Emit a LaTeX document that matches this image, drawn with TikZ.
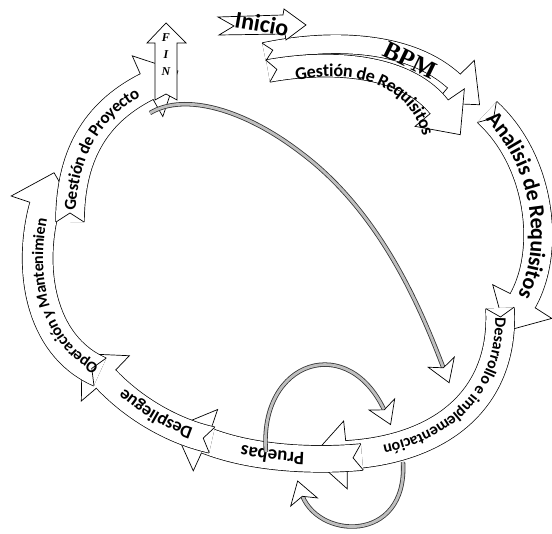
\documentclass[tikz,border=0pt]{standalone}
\usepackage{fontspec}
\setmainfont{Carlito}
\newfontfamily\bpmfont{Liberation Serif}
\usetikzlibrary{decorations.markings, decorations.text}

\begin{document}
\begin{tikzpicture}[x=1pt, y=-1pt, line width=0.7pt, font=\bfseries,
    band/.style={preaction={draw=black, line width=#1+1.4pt},
      postaction={draw=white, line width=#1},
      postaction={decorate, decoration={markings,
        mark=at position 0 with {\draw[line width=0.7pt] (0,#1/2) -- (9pt,0) -- (0,-#1/2);},
        mark=at position -0.5pt with {\draw[line width=0.7pt, fill=white]
          (-1pt,#1/2) -- (0,#1/2+20pt) -- (34pt,0) -- (0,-#1/2-20pt) -- (-1pt,-#1/2);}}}},
    band/.default=28pt,
    words/.style={postaction={decorate, decoration={text along path,
      text align=center, raise=-5.5pt, #1}}},
    loop/.style={preaction={draw=black!80, line width=4.4pt}, draw=black!25, line width=2.8pt,
      postaction={decorate, decoration={markings,
        mark=at position -0.5pt with {\draw[line width=0.7pt, draw=black, fill=white]
          (-4pt,0) -- (-10pt,14pt) -- (12pt,0) -- (-10pt,-14pt) -- cycle;}}}}
  ]
  \useasboundingbox (0,0) rectangle (552,534);

  % top bands
  \path[band=18pt] (264,52) .. controls (330,38) and (410,40) .. (455,82);
  \path[band=22pt] (268,71) .. controls (340,58) and (410,68) .. (440,108);
  \path[words={text={|\bfseries\fontsize{18}{18}\selectfont|Gestión de Requisitos}, raise=-6pt}]
    (280,78) .. controls (350,58) and (422,76) .. (432,150);
  \node[rotate=-26, font=\bpmfont\bfseries\fontsize{25}{25}\selectfont] (bpm) at (410,60) {BPM};

  % ring
  \path[band, words={text={|\bfseries\fontsize{22}{22}\selectfont|Analisis de Requisitos}, raise=-7pt}]
    (487,112) .. controls (540,160) and (552,250) .. (522,302);
  \path[band, words={text={|\bfseries\fontsize{16}{16}\selectfont|Desarrollo e implementación},
      text align={left, left indent=10pt}, raise=-5pt}]
    (500,308) .. controls (505,400) and (440,450) .. (345,455);
  \path[band=26pt, words={text={|\bfseries\fontsize{19}{19}\selectfont|Pruebas},
      text align={left, left indent=58pt}, raise=-6pt}]
    (362,457) .. controls (320,461) and (255,460) .. (205,440);
  \path[band=26pt, words={text={|\bfseries\fontsize{18}{18}\selectfont|Despliegue}, raise=-6pt}]
    (212,440) .. controls (175,432) and (135,410) .. (105,378);
  \path[band=30pt, words={text={|\bfseries\fontsize{16}{16}\selectfont|Operación y Mantenimien},
      text align={left, left indent=4pt}}]
    (100,372) .. controls (38,345) and (28,265) .. (45,205);
  \path[band, words={text={|\bfseries\fontsize{17}{17}\selectfont|Gestión de Proyecto}}]
    (70,222) .. controls (70,150) and (100,110) .. (148,86);

  % feedback arrows
  \draw[loop] (150,113) .. controls (185,92) and (245,110) .. (300,152)
    .. controls (385,215) and (425,320) .. (445,372);
  \draw[loop] (266,452) .. controls (258,360) and (350,330) .. (386,414);
  \draw[loop] (403,462) .. controls (408,545) and (315,540) .. (301,492);

  % start and end
  \draw[fill=white] (155,100) -- (155,43) -- (147,43) -- (166,23) -- (186,43)
    -- (177,43) -- (177,100) -- (166,94) -- cycle;
  \node[align=center, font=\bpmfont\bfseries\itshape\fontsize{12}{17}\selectfont] (fin) at (166,55) {F\\I\\N};
  \draw[fill=white] (218,17) -- (283,15) -- (284,9) -- (306,25) -- (286,40)
    -- (285,34) -- (219,35) -- (234,26) -- cycle;
  \node[rotate=-10, font=\bfseries\fontsize{24}{24}\selectfont] (inicio) at (262,24) {Inicio};

\end{tikzpicture}
\end{document}
